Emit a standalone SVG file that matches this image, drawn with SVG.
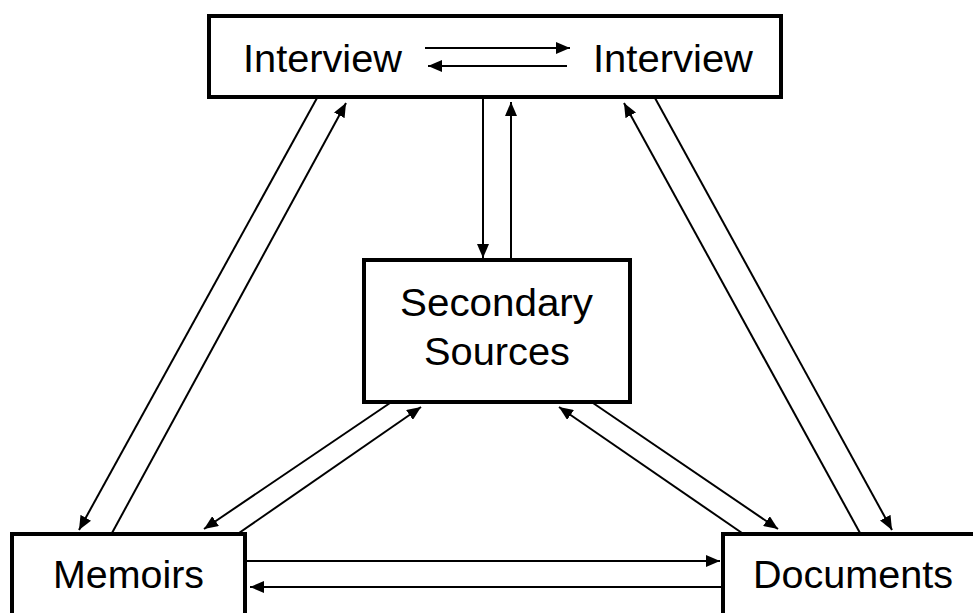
<svg xmlns="http://www.w3.org/2000/svg" width="973" height="613" viewBox="0 0 973 613">
<defs>
<style>
.box{fill:#fff;stroke:#000;stroke-width:4}
.lbl{font-family:"Liberation Sans",Arial,Helvetica,sans-serif;font-size:38px;fill:#000}
.c{fill:none;stroke:#000;stroke-width:2}
</style>
<marker id="ah" markerUnits="userSpaceOnUse" markerWidth="14" markerHeight="12" viewBox="0 0 14 12" refX="14" refY="6" orient="auto">
<path d="M0,0 L14,6 L0,12 z" fill="#000"/>
</marker>
</defs>
<rect width="973" height="613" fill="#fff"/>
<g id="interview">
<rect class="box" x="209" y="16" width="572" height="81"/>
<text class="lbl" x="243" y="72" textLength="159" lengthAdjust="spacingAndGlyphs">Interview</text>
<text class="lbl" x="593" y="72" textLength="160" lengthAdjust="spacingAndGlyphs">Interview</text>
</g>
<g id="secondary">
<rect class="box" x="364" y="260" width="266" height="142"/>
<text class="lbl" x="400" y="316" textLength="193" lengthAdjust="spacingAndGlyphs">Secondary</text>
<text class="lbl" x="424" y="365" textLength="146" lengthAdjust="spacingAndGlyphs">Sources</text>
</g>
<g id="memoirs">
<rect class="box" x="12" y="534" width="233" height="90"/>
<text class="lbl" x="53" y="588" textLength="151" lengthAdjust="spacingAndGlyphs">Memoirs</text>
</g>
<g id="documents">
<rect class="box" x="723" y="534" width="260" height="90"/>
<text class="lbl" x="753" y="588" textLength="200" lengthAdjust="spacingAndGlyphs">Documents</text>
</g>
<g id="connectors">
<line class="c" x1="425" y1="48" x2="570" y2="48" marker-end="url(#ah)"/>
<line class="c" x1="567" y1="66" x2="428" y2="66" marker-end="url(#ah)"/>
<line class="c" x1="483" y1="98" x2="483" y2="258" marker-end="url(#ah)"/>
<line class="c" x1="511" y1="258" x2="511" y2="102" marker-end="url(#ah)"/>
<line class="c" x1="317" y1="98" x2="79" y2="530" marker-end="url(#ah)"/>
<line class="c" x1="112" y1="533" x2="346" y2="103" marker-end="url(#ah)"/>
<line class="c" x1="860" y1="533" x2="624" y2="103" marker-end="url(#ah)"/>
<line class="c" x1="655" y1="98" x2="892" y2="530" marker-end="url(#ah)"/>
<line class="c" x1="390" y1="403" x2="204" y2="529" marker-end="url(#ah)"/>
<line class="c" x1="239" y1="533" x2="421" y2="407" marker-end="url(#ah)"/>
<line class="c" x1="742" y1="533" x2="559" y2="407" marker-end="url(#ah)"/>
<line class="c" x1="593" y1="403" x2="778" y2="529" marker-end="url(#ah)"/>
<line class="c" x1="246" y1="561" x2="720" y2="561" marker-end="url(#ah)"/>
<line class="c" x1="722" y1="587" x2="250" y2="587" marker-end="url(#ah)"/>
</g>
</svg>
